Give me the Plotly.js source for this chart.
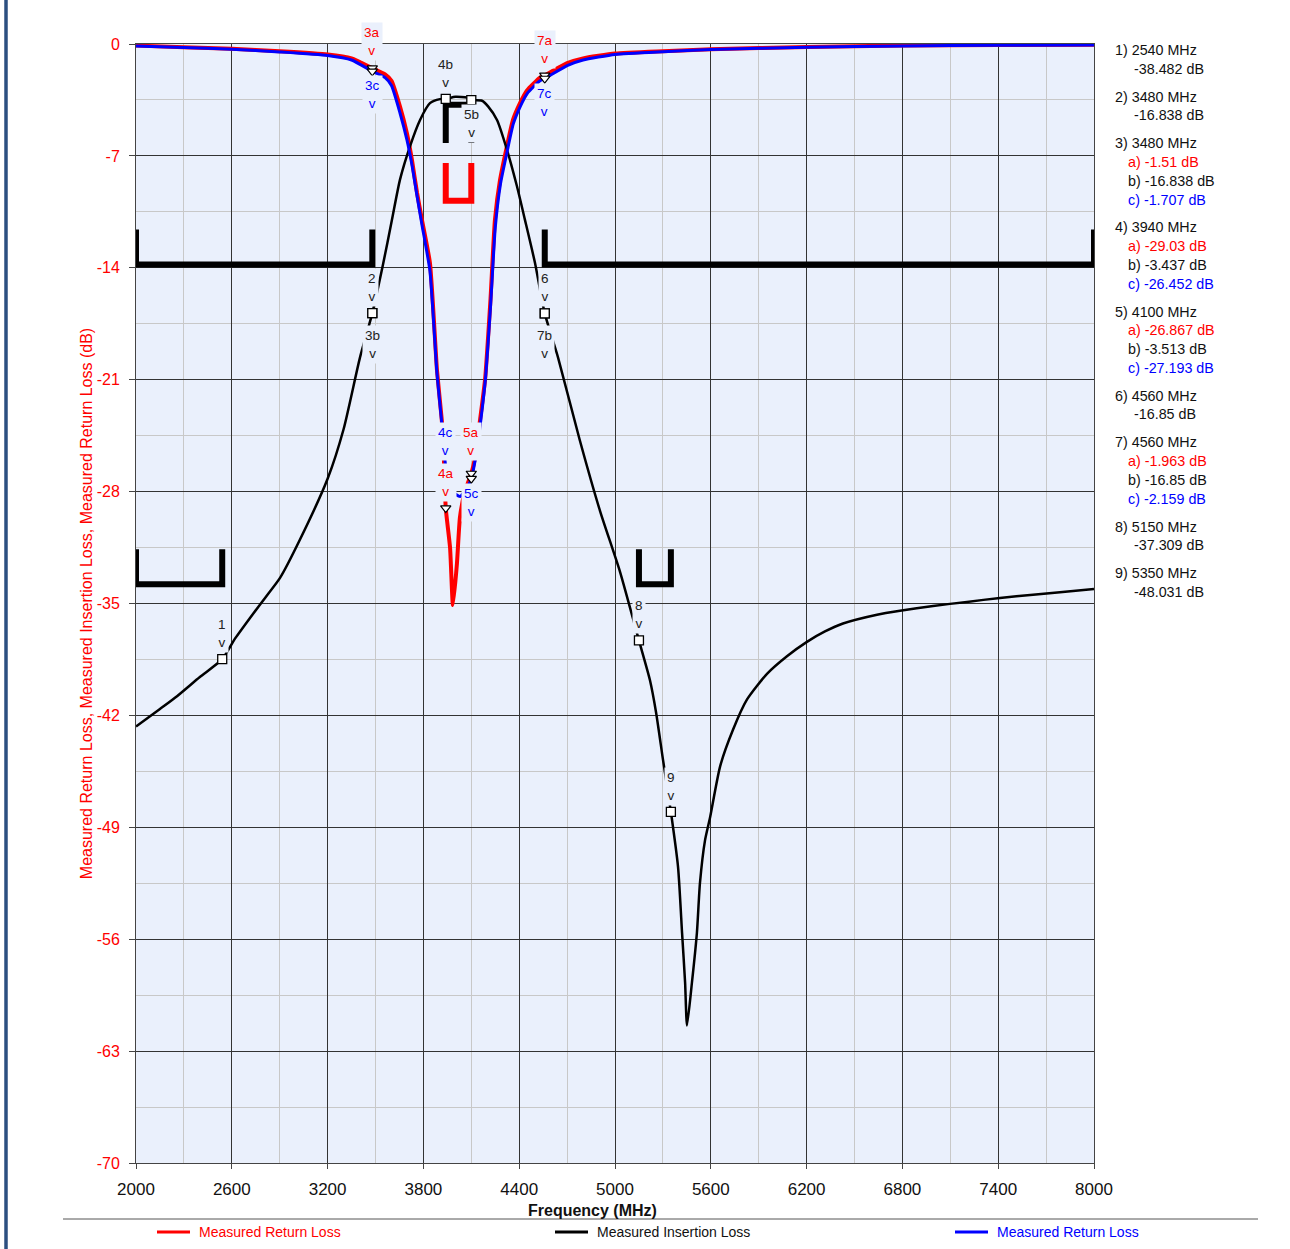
<!DOCTYPE html>
<html><head><meta charset="utf-8">
<script src="https://cdn.plot.ly/plotly-3.0.1.min.js"></script>
<style>html,body{margin:0;padding:0;background:#fff;} #chart{width:1290px;height:1249px;}</style>
</head><body><div id="chart"></div>
<script>
// ---------- data ----------
const redFreq = [2000,2300,2600,2900,3200,3350,3480,3560,3600,3653,3697,3729,3760,3791,3841,3885,3915,3925,3940,3967,3985,4010,4029,4060,4100,4123,4155,4186,4220,4248,4280,4323,4361,4405,4449,4530,4560,4700,4800,5000,5300,5600,6200,6800,7400,8000];
const redDb   = [-0.1,-0.2,-0.3,-0.45,-0.65,-0.9,-1.51,-1.9,-2.3,-3.9,-5.6,-7.3,-9.3,-11.0,-13.7,-20.4,-23.5,-25.0,-29.03,-31.5,-35.1,-32.5,-29.6,-28.0,-26.867,-25.9,-23.5,-21.0,-16.0,-11.0,-8.5,-6.4,-4.75,-3.7,-2.9,-2.1,-1.963,-1.2,-0.9,-0.6,-0.45,-0.33,-0.18,-0.1,-0.06,-0.05];

const ilFreq = [2000,2150,2257,2400,2540,2620,2714,2820,2902,3027,3200,3300,3403,3480,3547,3603,3653,3716,3779,3841,3904,3940,4000,4073,4100,4167,4205,4261,4323,4386,4436,4499,4560,4643,4780,4906,5031,5150,5219,5257,5301,5350,5395,5420,5439,5451,5482,5513,5532,5564,5595,5658,5739,5827,5952,6077,6202,6315,6428,6641,6785,6992,7204,7411,7618,7787,8000];
const ilDb   = [-42.7,-41.6,-40.8,-39.6,-38.482,-37.2,-35.9,-34.5,-33.4,-31.0,-27.2,-24.1,-19.6,-16.838,-13.8,-11.0,-8.5,-6.4,-4.75,-3.7,-3.45,-3.437,-3.3,-3.35,-3.513,-3.55,-3.9,-4.75,-6.6,-8.9,-11.0,-13.7,-16.85,-19.6,-24.8,-29.2,-33.0,-37.309,-39.8,-41.8,-44.8,-48.031,-51.5,-55.6,-58.7,-61.4,-58.7,-55.6,-52.5,-49.8,-48.4,-45.2,-42.9,-41.0,-39.4,-38.3,-37.4,-36.75,-36.25,-35.7,-35.45,-35.15,-34.9,-34.65,-34.45,-34.3,-34.1];

const blueFreq = [2000,2300,2600,2900,3200,3350,3480,3560,3600,3653,3697,3729,3760,3791,3841,3885,3915,3940,3980,4030,4070,4100,4130,4160,4190,4220,4250,4282,4325,4363,4407,4450,4530,4560,4700,4800,5000,5300,5600,6200,6800,7400,8000];
const blueDb   = [-0.12,-0.22,-0.33,-0.5,-0.72,-1.0,-1.707,-2.1,-2.6,-4.3,-6.0,-7.6,-9.5,-11.3,-14.2,-20.6,-23.7,-26.452,-28.0,-28.3,-27.8,-27.193,-25.7,-23.5,-20.8,-16.5,-11.5,-8.8,-6.7,-5.0,-3.9,-3.1,-2.3,-2.159,-1.35,-1.0,-0.65,-0.48,-0.35,-0.2,-0.12,-0.08,-0.07];

// markers
const markerNum  = [1,2,3,4,5,6,7,8,9];
const markerFreq = [2540,3480,3480,3940,4100,4560,4560,5150,5350];
const markerA    = [null,null,-1.51,-29.03,-26.867,null,-1.963,null,null];   // red return loss
const markerB    = [-38.482,-16.838,-16.838,-3.437,-3.513,-16.85,-16.85,-37.309,-48.031]; // insertion loss
const markerC    = [null,null,-1.707,-26.452,-27.193,null,-2.159,null,null]; // blue return loss

// spec masks (start MHz, stop MHz, level dB, edge dB)
const ilMaskStart = [2000,4560,2000,5150];
const ilMaskStop  = [3480,8000,2540,5350];
const ilMaskLevel = [-13.8,-13.8,-33.8,-33.8];
const ilMaskEdge  = [-11.6,-11.6,-31.6,-31.6];
const ilPassStart = [3940], ilPassStop = [4100], ilPassLevel = [-3.8], ilPassEdge = [-6.2];
const rlMaskStart = [3940], rlMaskStop = [4100], rlMaskLevel = [-9.8], rlMaskEdge = [-7.45];

// axis ticks
const xTickVals = [2000,2600,3200,3800,4400,5000,5600,6200,6800,7400,8000];
const yTickVals = [0,-7,-14,-21,-28,-35,-42,-49,-56,-63,-70];
const yTickText = ['0','-7','-14','-21','-28','-35','-42','-49','-56','-63','-70'];

const xTitle = 'Frequency (MHz)';
const yTitle = 'Measured Return Loss, Measured Insertion Loss, Measured Return Loss (dB)';
const seriesNames = ['Measured Return Loss','Measured Insertion Loss','Measured Return Loss'];

// ---------- styling ----------
const RED='#ff0000', BLUE='#0000ff', BLK='#000000';
const BG='#eaf0fc';
const FONT='Liberation Sans, Arial, sans-serif';
const L=136, R=1094, T=44, B=1163, W=1290, H=1249;
const pw=R-L, ph=B-T;
const px2paperX = p => (p-L)/pw;
const px2paperY = p => (B-p)/ph;
const seriesColors=[RED,BLK,BLUE];
const seriesTextColors=[RED,'#111',BLUE];

function bracket(starts, stops, levels, edges){
  const xs=[], ys=[];
  for(let i=0;i<starts.length;i++){
    xs.push(starts[i],starts[i],stops[i],stops[i],null);
    ys.push(edges[i],levels[i],levels[i],edges[i],null);
  }
  return {x:xs,y:ys};
}

const traces=[];
traces.push({x:redFreq,y:redDb,type:'scatter',mode:'lines',line:{color:RED,width:4,shape:'spline',smoothing:0.5},name:seriesNames[0],showlegend:false});
traces.push({x:ilFreq,y:ilDb,type:'scatter',mode:'lines',line:{color:BLK,width:2.5,shape:'spline',smoothing:0.6},name:seriesNames[1],showlegend:false});
traces.push({x:blueFreq,y:blueDb,type:'scatter',mode:'lines',line:{color:BLUE,width:3,shape:'spline',smoothing:0.5},name:seriesNames[2],showlegend:false});

const m1=bracket(ilMaskStart,ilMaskStop,ilMaskLevel,ilMaskEdge);
traces.push({x:m1.x,y:m1.y,mode:'lines',line:{color:BLK,width:6},showlegend:false,hoverinfo:'skip'});
const m2=bracket(ilPassStart,ilPassStop,ilPassLevel,ilPassEdge);
traces.push({x:m2.x,y:m2.y,mode:'lines',line:{color:BLK,width:6},showlegend:false,hoverinfo:'skip'});
const m3=bracket(rlMaskStart,rlMaskStop,rlMaskLevel,rlMaskEdge);
traces.push({x:m3.x,y:m3.y,mode:'lines',line:{color:RED,width:6},showlegend:false,hoverinfo:'skip'});

// marker symbols
traces.push({x:markerFreq,y:markerB,mode:'markers',marker:{symbol:'square',size:9,color:'#fff',line:{color:BLK,width:1.3}},showlegend:false,hoverinfo:'skip'});
traces.push({x:markerFreq,y:markerA,mode:'markers',marker:{symbol:'triangle-down',size:9,color:'#fff',line:{color:BLK,width:1.2}},showlegend:false,hoverinfo:'skip'});
traces.push({x:markerFreq,y:markerC,mode:'markers',marker:{symbol:'triangle-down',size:9,color:'#fff',line:{color:BLK,width:1.2}},showlegend:false,hoverinfo:'skip'});

// marker labels
const labelSpecs=[
  {m:1,s:'b',pos:'above',t:'1'},
  {m:2,s:'b',pos:'above',t:'2'},
  {m:3,s:'a',pos:'above',t:'3a',shift:7},
  {m:3,s:'b',pos:'below',t:'3b',shift:-12},
  {m:3,s:'c',pos:'below',t:'3c'},
  {m:4,s:'b',pos:'above',t:'4b'},
  {m:4,s:'c',pos:'above',t:'4c'},
  {m:4,s:'a',pos:'above',t:'4a'},
  {m:5,s:'b',pos:'below',t:'5b'},
  {m:5,s:'a',pos:'above',t:'5a',shift:12},
  {m:5,s:'c',pos:'below',t:'5c'},
  {m:6,s:'b',pos:'above',t:'6'},
  {m:7,s:'a',pos:'above',t:'7a'},
  {m:7,s:'b',pos:'below',t:'7b',shift:-12},
  {m:7,s:'c',pos:'below',t:'7c'},
  {m:8,s:'b',pos:'above',t:'8'},
  {m:9,s:'b',pos:'above',t:'9'}
];
const seriesVals={a:markerA,b:markerB,c:markerC};
const seriesCol={a:RED,b:'#222',c:BLUE};
const annotations=[];
labelSpecs.forEach(sp=>{
  const i=markerNum.indexOf(sp.m);
  const above=sp.pos==='above';
  annotations.push({
    x:markerFreq[i], y:seriesVals[sp.s][i], xref:'x', yref:'y',
    text: sp.t+'<br>v', showarrow:false,
    font:{family:FONT,size:13.5,color:seriesCol[sp.s]},
    bgcolor:BG, borderpad:2,
    yanchor: above?'bottom':'top',
    yshift: sp.shift!==undefined?sp.shift:(above?6:-4)
  });
});

// right-hand marker readout
let lineIdx=0;
const lineStep=18.7, groupGap=9.3;
function addLine(txt,color,indent,g){
  const ypx=50+lineIdx*lineStep+g*groupGap;
  annotations.push({xref:'paper',yref:'paper',x:1,y:px2paperY(ypx),xanchor:'left',yanchor:'middle',
    xshift:indent,text:txt,showarrow:false,font:{family:FONT,size:14.3,color:color}});
  lineIdx++;
}
markerNum.forEach((n,i)=>{
  const g=i;
  addLine(n+') '+markerFreq[i]+' MHz','#111',19,g);
  if(markerA[i]===null){
    addLine(markerB[i]+' dB','#111',38,g);
  }else{
    addLine('a) '+markerA[i]+' dB',RED,32,g);
    addLine('b) '+markerB[i]+' dB','#111',32,g);
    addLine('c) '+markerC[i]+' dB',BLUE,32,g);
  }
});

// x-axis title
annotations.push({xref:'paper',yref:'paper',x:px2paperX(592),y:px2paperY(1210),xanchor:'center',yanchor:'middle',
  text:'<b>'+xTitle+'</b>',showarrow:false,font:{family:FONT,size:16,color:'#111'}});

const shapes=[
  {type:'line',xref:'paper',yref:'paper',x0:px2paperX(63),x1:px2paperX(1258),y0:px2paperY(1219),y1:px2paperY(1219),line:{color:'#555',width:1}},
  {type:'line',xref:'paper',yref:'paper',x0:px2paperX(6),x1:px2paperX(6),y0:px2paperY(0),y1:px2paperY(H),line:{color:'#2c4f80',width:3.5}}
];

// legend (drawn manually to reproduce the wide spacing)
const legendX=[157,555,955], legendY=1232;
seriesNames.forEach((nm,i)=>{
  shapes.push({type:'line',xref:'paper',yref:'paper',x0:px2paperX(legendX[i]),x1:px2paperX(legendX[i]+33),
    y0:px2paperY(legendY),y1:px2paperY(legendY),line:{color:seriesColors[i],width:3}});
  annotations.push({xref:'paper',yref:'paper',x:px2paperX(legendX[i]+40),y:px2paperY(legendY),xanchor:'left',yanchor:'middle',
    text:nm,showarrow:false,font:{family:FONT,size:14,color:seriesTextColors[i]}});
});

const layout={
  width:W,height:H,autosize:false,
  margin:{l:L,r:W-R,t:T,b:H-B,pad:0},
  paper_bgcolor:'#ffffff',plot_bgcolor:BG,
  font:{family:FONT,size:14,color:'#111'},
  showlegend:false,
  xaxis:{range:[2000,8000],tickvals:xTickVals,ticktext:xTickVals.map(String),showgrid:true,gridcolor:'#333',gridwidth:1,
    minor:{dtick:300,tick0:2000,showgrid:true,gridcolor:'#c8c8c8',gridwidth:1},
    showline:true,linecolor:'#444',linewidth:1,mirror:true,zeroline:false,
    ticks:'outside',ticklen:5,tickcolor:'#444',ticklabelstandoff:6,
    tickfont:{family:FONT,size:17,color:'#111'},automargin:false},
  yaxis:{range:[-70,0],tickvals:yTickVals,ticktext:yTickText,showgrid:true,gridcolor:'#333',gridwidth:1,
    minor:{dtick:3.5,tick0:0,showgrid:true,gridcolor:'#c8c8c8',gridwidth:1},
    showline:true,linecolor:'#444',linewidth:1,mirror:true,zeroline:false,
    ticks:'outside',ticklen:6,tickcolor:'#444',ticklabelstandoff:6,
    tickfont:{family:FONT,size:16,color:RED},automargin:false,
    title:{text:yTitle,font:{family:FONT,size:16,color:RED},standoff:0}},
  annotations:annotations,
  shapes:shapes
};
Plotly.newPlot('chart',traces,layout,{staticPlot:true,displayModeBar:false});
</script>
</body></html>
